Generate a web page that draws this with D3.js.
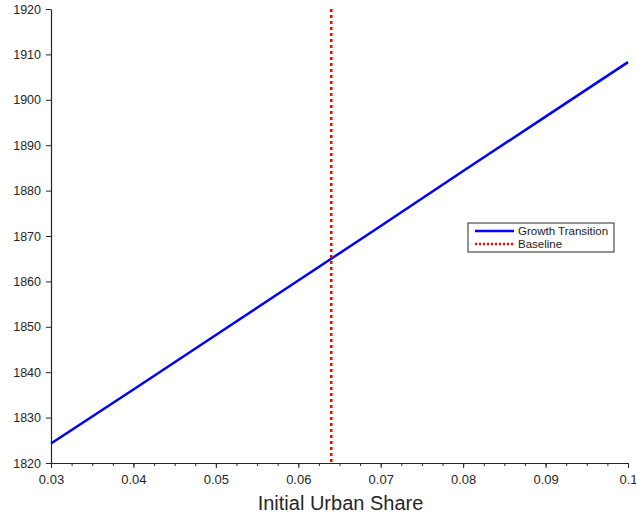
<!DOCTYPE html>
<html>
<head>
<meta charset="utf-8">
<script src="https://cdn.jsdelivr.net/npm/d3@7"></script>
<style>
  body { margin: 0; background: #fff; }
  svg { font-family: "Liberation Sans", Arial, sans-serif; }
</style>
</head>
<body>
<svg width="636" height="519"></svg>
<script>
// data
var urbanShare = [0.03, 0.04, 0.05, 0.06, 0.07, 0.08, 0.09, 0.1];
var transitionYear = [1824.3, 1836.2, 1848.2, 1860.2, 1872.2, 1884.3, 1896.3, 1908.3];
var baselineShare = 0.064;
var xTicks = [0.03, 0.04, 0.05, 0.06, 0.07, 0.08, 0.09, 0.1];
var yTicks = [1820, 1830, 1840, 1850, 1860, 1870, 1880, 1890, 1900, 1910, 1920];
var legendLabels = ["Growth Transition", "Baseline"];

var width = 636;
var height = 519;
var padding = { top: 9, right: 8, bottom: 56, left: 51 };

var svg = d3.select("svg");

var xScale = d3.scaleLinear()
               .domain([0.03, 0.1])
               .range([padding.left, width - padding.right]);

var yScale = d3.scaleLinear()
               .domain([1820, 1920])
               .range([height - padding.bottom, padding.top]);

var points = urbanShare.map((d, i) => ({ x: d, y: transitionYear[i] }));

// minor ticks on x axis
svg.append("g")
   .attr("transform", "translate(0," + (height - padding.bottom) + ")")
   .call(d3.axisBottom(xScale).tickValues(d3.range(0, 29).map(i => 0.03 + i * 0.0025)).tickSize(3).tickFormat(""))
   .call(g => g.select(".domain").remove())
   .selectAll("line").attr("stroke", "#262626");

var xAxis = svg.append("g")
   .attr("transform", "translate(0," + (height - padding.bottom) + ")")
   .call(d3.axisBottom(xScale).tickValues(xTicks).tickSize(5).tickSizeOuter(0).tickPadding(7)
          .tickFormat(d => d3.format("~g")(d)));

var yAxis = svg.append("g")
   .attr("transform", "translate(" + padding.left + ",0)")
   .call(d3.axisLeft(yScale).tickValues(yTicks).tickSize(5).tickSizeOuter(0).tickPadding(5)
          .tickFormat(d3.format("d")));

[xAxis, yAxis].forEach(function(g) {
  g.selectAll(".domain").attr("stroke", "#262626").attr("stroke-width", 1.2);
  g.selectAll(".tick line").attr("stroke", "#262626");
  g.selectAll("text").attr("fill", "#262626");
});
xAxis.selectAll("text").style("font-size", "13px");
yAxis.selectAll("text").style("font-size", "12.5px");

svg.append("text")
   .attr("x", (padding.left + width - padding.right) / 2 + 1)
   .attr("y", 510)
   .attr("text-anchor", "middle")
   .attr("fill", "#262626")
   .style("font-size", "20px")
   .text("Initial Urban Share");

// growth transition line
var line = d3.line().x(d => xScale(d.x)).y(d => yScale(d.y));

svg.append("path")
   .datum(points)
   .attr("fill", "none")
   .attr("stroke", "#0000ff")
   .attr("stroke-width", 2.5)
   .attr("d", line);

// baseline
svg.append("line")
   .attr("x1", xScale(baselineShare))
   .attr("x2", xScale(baselineShare))
   .attr("y1", yScale(1920))
   .attr("y2", yScale(1820))
   .attr("stroke", "#ff0000")
   .attr("stroke-width", 2.5)
   .attr("stroke-dasharray", "3,3");

// legend
var legend = svg.append("g").attr("transform", "translate(468,223)");

legend.append("rect")
   .attr("width", 146)
   .attr("height", 29)
   .attr("fill", "#fff")
   .attr("stroke", "#262626")
   .attr("stroke-width", 1);

var legendStyles = [
  { color: "#0000ff", dash: null },
  { color: "#ff0000", dash: "2,2" }
];

legendLabels.forEach(function(label, i) {
  var y = 8 + i * 13;
  legend.append("line")
     .attr("x1", 7).attr("x2", 46)
     .attr("y1", y).attr("y2", y)
     .attr("stroke", legendStyles[i].color)
     .attr("stroke-width", 2.5)
     .attr("stroke-dasharray", legendStyles[i].dash);
  legend.append("text")
     .attr("x", 50)
     .attr("y", y + 4)
     .attr("fill", "#1a1a1a")
     .style("font-size", "11.5px")
     .text(label);
});
</script>
</body>
</html>
